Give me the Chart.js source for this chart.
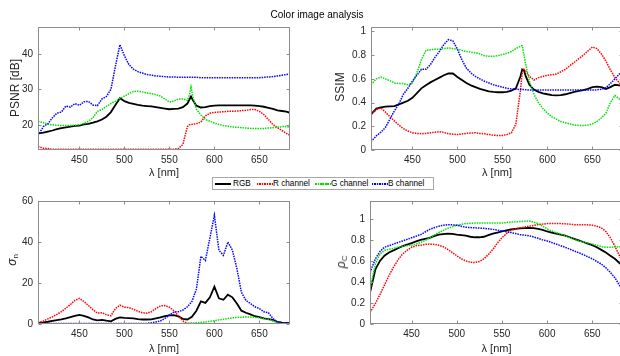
<!DOCTYPE html>
<html><head><meta charset="utf-8">
<script src="https://cdn.jsdelivr.net/npm/chart.js@4/dist/chart.umd.min.js"></script>
<style>
html,body{margin:0;padding:0;width:620px;height:356px;overflow:hidden;background:#fff;font-family:"Liberation Sans",Arial,sans-serif;}
#wrap{position:relative;width:630px;height:356px;}
.cv{position:absolute;}
.ytitle{position:absolute;transform:translate(-50%,-50%) rotate(-90deg);white-space:nowrap;font-size:12px;color:#262626;line-height:1;}
.ytitle sub{font-size:8px;vertical-align:-2px;}
#title{position:absolute;left:317px;top:14px;transform:translate(-50%,-50%);font-size:10px;color:#000;white-space:nowrap;}
#legend{position:absolute;left:212px;top:177px;width:220px;height:11px;border:1px solid #a8a8a8;background:#fff;}
.ls{position:absolute;top:5px;width:16px;height:1.5px;}
.lt{position:absolute;top:0px;font-size:8.2px;line-height:11px;color:#000;white-space:nowrap;}
</style></head>
<body><div id="wrap">
<canvas id="cTL" class="cv" width="300" height="180" style="left:0;top:0;width:300px;height:180px"></canvas>
<canvas id="cTR" class="cv" width="320" height="180" style="left:310px;top:0;width:320px;height:180px"></canvas>
<canvas id="cBL" class="cv" width="300" height="166" style="left:0;top:190px;width:300px;height:166px"></canvas>
<canvas id="cBR" class="cv" width="320" height="166" style="left:310px;top:190px;width:320px;height:166px"></canvas>
<div id="title">Color image analysis</div>
<div class="ytitle" style="left:15px;top:88px">PSNR [dB]</div>
<div class="ytitle" style="left:340px;top:87px">SSIM</div>
<div class="ytitle" style="left:13px;top:260px"><i>σ</i><sub>n</sub></div>
<div class="ytitle" style="left:342px;top:262px"><i>ρ</i><sub>C</sub></div>
<div id="legend">
  <div class="ls" style="left:2px;height:2px;top:4.5px;background:#000;"></div><div class="lt" style="left:20px">RGB</div>
  <div class="ls" style="left:44px;background:repeating-linear-gradient(90deg,#ff0000 0 1.5px,rgba(255,0,0,0.15) 1.5px 2.5px);"></div><div class="lt" style="left:60px">R channel</div>
  <div class="ls" style="left:102px;background:repeating-linear-gradient(90deg,#00e000 0 1.5px,rgba(0,224,0,0.15) 1.5px 2.5px);"></div><div class="lt" style="left:118px">G channel</div>
  <div class="ls" style="left:159px;background:repeating-linear-gradient(90deg,#0000ff 0 1.5px,rgba(0,0,255,0.15) 1.5px 2.5px);"></div><div class="lt" style="left:175px">B channel</div>
</div>
</div>
<script>
// ---------- DATA ----------
const seriesNames = ['RGB','R channel','G channel','B channel'];
const xTicks = [450,500,550,600,650];
const psnrTicks = [20,30,40];
const ssimTicks = [0,0.2,0.4,0.6,0.8,1];
const sigmaTicks = [0,20,40,60];
const rhoTicks = [0,0.2,0.4,0.6,0.8,1];

const lamTop = [404,410,415,420,425,430,435,440,445,450,455,460,465,470,475,480,485,490,495,500,505,510,515,520,525,530,535,540,545,550,555,560,565,570,572,574,576,580,585,590,595,600,605,610,615,620,625,630,635,640,645,650,655,660,665,670,675,680,684];
const lamBot = [404,410,415,420,425,430,435,440,445,450,455,460,465,470,475,480,485,490,495,500,505,510,515,520,525,530,535,540,545,550,555,560,565,570,575,580,585,590,595,600,605,610,615,620,625,630,635,640,645,650,655,660,665,670,675,680,684];

const psnrRGB = [17.6,17.8,18.1,18.4,18.8,19.1,19.3,19.5,19.7,19.8,
 20.1,20.3,20.6,21.0,21.5,22.3,23.6,25.6,27.5,26.7,
 26.2,25.9,25.6,25.4,25.3,25.2,25.0,24.8,24.6,24.4,
 24.5,24.6,25.0,26.0,
 27.0,28.0,27.0,
 25.4,24.9,25.0,25.3,25.4,25.5,25.5,25.5,25.5,25.5,
 25.5,25.5,25.5,25.4,25.3,25.1,24.8,24.5,24.1,23.9,
 23.7,23.4];
const psnrR = [13.9,13.4,13.3,13.1,13.1,13.1,13.1,13.1,13.1,13.1,
 13.1,13.1,13.1,13.1,13.1,13.1,13.1,13.1,13.1,13.1,
 13.1,13.1,13.1,13.1,13.1,13.1,13.1,13.1,13.1,13.1,
 13.1,13.3,14.5,19.5,
 20.0,20.1,20.2,
 20.3,20.8,22.5,23.3,23.5,23.6,23.7,23.8,23.8,23.9,
 24.0,24.1,24.3,24.3,23.8,22.9,21.5,20.1,19.2,18.4,
 17.6,17.0];
const psnrG = [21.0,20.6,20.2,20.0,19.9,19.8,19.8,19.8,19.9,20.0,
 20.4,21.0,22.0,23.8,24.3,25.2,26.0,26.7,27.4,28.1,
 28.8,29.4,29.5,29.3,29.0,28.8,28.5,28.1,27.3,26.4,
 26.7,27.3,27.3,26.9,
 28.3,30.7,28.0,
 24.4,22.8,21.5,21.0,20.5,20.1,19.8,19.6,19.4,19.3,
 19.2,19.1,19.0,19.0,19.0,19.0,19.1,19.2,19.3,19.5,
 19.5,19.3];
const psnrB = [17.0,19.5,20.3,22.0,23.3,23.6,25.3,25.0,26.0,25.5,
 26.5,26.6,25.6,25.4,27.3,28.0,30.0,36.5,42.6,39.5,
 37.0,35.7,35.0,34.6,34.2,34.0,33.8,33.7,33.6,33.5,
 33.5,33.4,33.4,33.4,
 33.4,33.4,33.4,
 33.4,33.3,33.3,33.3,33.3,33.3,33.3,33.3,33.3,33.3,
 33.3,33.3,33.3,33.3,33.3,33.4,33.5,33.6,33.8,34.0,
 34.2,34.4];

const ssimRGB = [0.30,0.35,0.36,0.365,0.368,0.37,0.385,0.40,0.415,0.44,
 0.48,0.52,0.545,0.57,0.59,0.61,0.63,0.645,0.645,0.615,
 0.59,0.565,0.545,0.53,0.515,0.505,0.495,0.49,0.487,0.487,
 0.49,0.50,0.52,0.62,
 0.68,0.67,0.62,
 0.55,0.51,0.49,0.478,0.47,0.463,0.46,0.462,0.47,0.48,
 0.49,0.498,0.505,0.515,0.53,0.535,0.53,0.515,0.53,0.55,
 0.545,0.54];
const ssimR = [0.30,0.34,0.355,0.32,0.28,0.245,0.21,0.18,0.16,0.145,
 0.14,0.137,0.14,0.145,0.15,0.155,0.148,0.137,0.133,0.13,
 0.135,0.14,0.143,0.145,0.14,0.137,0.13,0.125,0.122,0.123,
 0.13,0.145,0.22,0.50,
 0.65,0.68,0.665,
 0.62,0.59,0.61,0.62,0.63,0.635,0.64,0.66,0.68,0.71,
 0.74,0.77,0.80,0.835,0.868,0.855,0.81,0.75,0.675,0.61,
 0.565,0.545];
const ssimG = [0.55,0.60,0.615,0.60,0.585,0.565,0.56,0.56,0.55,0.565,
 0.65,0.76,0.84,0.845,0.85,0.85,0.855,0.86,0.855,0.85,
 0.84,0.83,0.825,0.82,0.81,0.795,0.79,0.79,0.795,0.805,
 0.815,0.83,0.855,0.875,
 0.88,0.80,0.72,
 0.58,0.47,0.40,0.35,0.31,0.28,0.26,0.24,0.23,0.22,
 0.21,0.207,0.207,0.21,0.22,0.24,0.27,0.31,0.40,0.46,
 0.43,0.40];
const ssimB = [0.07,0.12,0.15,0.19,0.26,0.33,0.39,0.47,0.52,0.58,
 0.63,0.68,0.68,0.72,0.78,0.83,0.89,0.93,0.92,0.85,
 0.76,0.69,0.65,0.62,0.60,0.58,0.565,0.55,0.54,0.53,
 0.52,0.515,0.512,0.51,
 0.51,0.51,0.508,
 0.505,0.505,0.505,0.505,0.505,0.505,0.505,0.505,0.505,0.505,
 0.505,0.505,0.505,0.505,0.505,0.507,0.512,0.525,0.56,0.60,
 0.64,0.66];

const sigmaRGB = [0.5,0.8,1.1,1.5,1.9,2.3,2.8,3.4,4.0,4.4,
 4.0,3.2,2.2,1.8,2.0,1.6,1.3,2.5,3.2,3.0,
 2.9,2.7,2.4,2.2,2.2,2.3,2.7,3.2,3.8,4.2,
 4.3,3.7,2.5,2.2,3.5,6.5,11.0,10.3,13.0,18.2,
 12.5,11.8,14.3,13.0,10.0,6.5,5.5,4.7,3.8,3.3,
 2.7,2.4,2.0,1.0,0.7,0.5,
 0.5];
const sigmaR = [0.5,1.5,2.5,3.5,4.7,6.0,7.7,9.5,11.5,12.5,
 11.0,9.0,7.0,5.3,5.5,4.5,4.0,7.5,9.2,8.2,
 8.0,7.2,6.2,5.5,5.3,6.0,7.5,8.8,9.0,8.2,
 6.5,4.0,1.5,0.3,0.15,0.15,0.15,0.15,0.15,0.15,
 0.15,0.15,0.15,0.15,0.15,0.15,0.15,0.15,0.15,0.15,
 0.15,0.15,0.15,0.15,0.15,0.15,
 0.15];
const sigmaG = [0.1,0.1,0.1,0.1,0.1,0.1,0.1,0.1,0.1,0.1,
 0.1,0.1,0.1,0.1,0.1,0.1,0.1,0.1,0.1,0.1,
 0.1,0.1,0.1,0.1,0.1,0.1,0.1,0.1,0.1,0.1,
 0.1,0.1,0.2,0.3,0.45,0.6,0.8,1.0,1.3,1.6,
 2.0,2.3,2.7,3.0,3.2,3.3,3.4,3.4,3.2,3.0,
 2.6,2.2,1.5,0.8,0.5,0.4,
 0.3];
const sigmaB = [0.3,0.3,0.3,0.3,0.3,0.3,0.3,0.3,0.3,0.3,
 0.3,0.3,0.3,0.3,0.3,0.3,0.3,0.3,0.3,0.3,
 0.3,0.3,0.3,0.3,0.3,0.6,1.0,1.5,2.7,4.4,
 5.8,6.0,6.8,8.4,11.0,17.0,33.0,31.0,42.0,53.0,
 36.0,33.5,40.0,36.0,27.0,15.5,11.5,10.0,8.4,7.5,
 6.0,5.5,2.7,1.1,0.6,0.5,
 0.5];

const rhoRGB = [0.30,0.52,0.60,0.65,0.68,0.70,0.72,0.74,0.755,0.77,
 0.785,0.80,0.81,0.82,0.835,0.85,0.855,0.86,0.857,0.85,
 0.845,0.84,0.83,0.825,0.825,0.83,0.845,0.86,0.87,0.88,
 0.89,0.90,0.905,0.91,0.912,0.915,0.912,0.905,0.895,0.88,
 0.87,0.86,0.85,0.84,0.825,0.81,0.795,0.78,0.765,0.75,
 0.73,0.705,0.68,0.65,0.62,0.58,
 0.555];
const rhoR = [0.11,0.195,0.28,0.37,0.46,0.54,0.61,0.665,0.70,0.73,
 0.745,0.75,0.758,0.76,0.757,0.75,0.735,0.71,0.68,0.65,
 0.62,0.60,0.588,0.585,0.595,0.62,0.66,0.71,0.77,0.82,
 0.86,0.89,0.905,0.915,0.922,0.93,0.938,0.945,0.95,0.955,
 0.955,0.955,0.955,0.953,0.95,0.945,0.945,0.945,0.943,0.94,
 0.93,0.915,0.88,0.82,0.74,0.65,
 0.585];
const rhoG = [0.33,0.57,0.665,0.70,0.71,0.72,0.73,0.74,0.745,0.75,
 0.76,0.775,0.795,0.82,0.845,0.87,0.89,0.91,0.925,0.94,
 0.948,0.955,0.958,0.96,0.96,0.96,0.96,0.96,0.96,0.96,
 0.965,0.97,0.972,0.975,0.978,0.98,0.97,0.955,0.93,0.905,
 0.885,0.87,0.855,0.84,0.822,0.805,0.79,0.78,0.77,0.76,
 0.75,0.735,0.73,0.73,0.732,0.735,
 0.735];
const rhoB = [0.49,0.62,0.69,0.73,0.745,0.76,0.775,0.79,0.805,0.82,
 0.835,0.85,0.875,0.90,0.915,0.93,0.94,0.945,0.943,0.94,
 0.93,0.92,0.917,0.915,0.912,0.91,0.905,0.90,0.893,0.885,
 0.878,0.87,0.86,0.85,0.845,0.84,0.828,0.815,0.80,0.79,
 0.775,0.76,0.745,0.73,0.712,0.695,0.678,0.66,0.64,0.62,
 0.595,0.57,0.535,0.49,0.44,0.37,
 0.31];

// ---------- STYLE ----------
const FONT = '"Liberation Sans", Arial, sans-serif';
const STY = [
  {borderColor:'#000000', borderWidth:1.8, borderDash:[], order:4},
  {borderColor:'#ff0000', borderWidth:1.5, borderDash:[1.5,1], order:3},
  {borderColor:'#00e000', borderWidth:1.5, borderDash:[1.5,1], order:2},
  {borderColor:'#0000ff', borderWidth:1.5, borderDash:[1.5,1], order:1}
];

const boxPlugin = {
  id:'box',
  afterDraw(chart){
    const {ctx, chartArea:a, scales:{x,y}} = chart;
    ctx.save();
    ctx.strokeStyle = '#8c8c8c';
    ctx.lineWidth = 1;
    const L = Math.round(a.left)+0.5, R = Math.round(a.right)-0.5, T = Math.round(a.top)+0.5, B = Math.round(a.bottom)-0.5;
    ctx.strokeRect(L, T, R-L, B-T);
    ctx.beginPath();
    x.ticks.forEach(t=>{
      const p = Math.round(x.getPixelForValue(t.value))+0.5;
      ctx.moveTo(p,B); ctx.lineTo(p,B-3);
      ctx.moveTo(p,T); ctx.lineTo(p,T+3);
    });
    y.ticks.forEach(t=>{
      const p = Math.round(y.getPixelForValue(t.value))+0.5;
      ctx.moveTo(L,p); ctx.lineTo(L+3,p);
      ctx.moveTo(R,p); ctx.lineTo(R-3,p);
    });
    ctx.stroke();
    ctx.restore();
  }
};

function make(id, lam, ser, yMin, yMax, yTicks, g){
  return new Chart(document.getElementById(id), {
    type:'line',
    data:{datasets: ser.map((vals,i)=>Object.assign({
      label: seriesNames[i],
      data: vals.map((v,k)=>({x:lam[k], y:v})),
      pointRadius:0, fill:false, tension:0, borderCapStyle:'butt'
    }, STY[i]))},
    options:{
      responsive:false, animation:false, devicePixelRatio:1,
      layout:{padding:{top:g.pt, right:g.pr, left:0, bottom:0}},
      plugins:{legend:{display:false}, tooltip:{enabled:false}},
      scales:{
        x:{type:'linear', min:404, max:684,
           afterBuildTicks:s=>{s.ticks = xTicks.map(v=>({value:v}));},
           afterFit:s=>{s.height = g.xh;},
           grid:{display:false, drawTicks:false}, border:{display:false},
           ticks:{padding:g.xpad, font:{size:10, family:FONT}, color:'#262626', maxRotation:0, autoSkip:false, callback:v=>String(v)},
           title:{display:true, text:'λ [nm]', font:{size:11, family:FONT}, color:'#262626', padding:{top:0,bottom:0}}
        },
        y:{type:'linear', min:yMin, max:yMax,
           afterBuildTicks:s=>{s.ticks = yTicks.map(v=>({value:v}));},
           afterFit:s=>{s.width = g.yw;},
           grid:{display:false, drawTicks:false}, border:{display:false},
           ticks:{padding:5, font:{size:10, family:FONT}, color:'#262626', autoSkip:false, callback:v=>String(v)}
        }
      }
    },
    plugins:[boxPlugin]
  });
}

make('cTL', lamTop, [psnrRGB, psnrR, psnrG, psnrB], 12.9, 47.6, psnrTicks, {pt:27, pr:10, yw:38, xh:30, xpad:4});
make('cTR', lamTop, [ssimRGB, ssimR, ssimG, ssimB], 0, 1.037, ssimTicks, {pt:27, pr:7, yw:61, xh:30, xpad:4});
make('cBL', lamBot, [sigmaRGB, sigmaR, sigmaG, sigmaB], 0, 60, sigmaTicks, {pt:10, pr:10, yw:38, xh:32, xpad:4});
make('cBR', lamBot, [rhoRGB, rhoR, rhoG, rhoB], 0, 1.17, rhoTicks, {pt:10, pr:7, yw:60, xh:32, xpad:4});
</script>
</body></html>
